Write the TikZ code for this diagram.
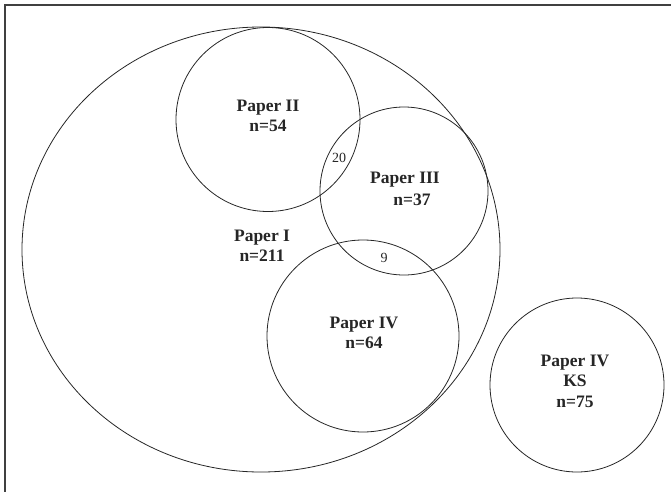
\documentclass[tikz,border=0pt]{standalone}
\usepackage{fontspec}
\setmainfont{Liberation Serif}
\begin{document}
\begin{tikzpicture}[x=1pt,y=-1pt,
  set/.style={draw=black!85,line width=0.8pt},
  lbl/.style={font=\fontsize{17.5}{20.5}\selectfont\bfseries,align=center,inner sep=0pt,text=black!85},
  cnt/.style={font=\fontsize{14}{16}\selectfont,inner sep=0pt,text=black!85}]
\useasboundingbox (0,0) rectangle (671,492);
\draw[black!75,line width=1.6pt] (671,5) -- (5,5) -- (5,492);
% sets
\draw[set] (261,249.5) ellipse [x radius=239, y radius=222.5];
\draw[set] (268,119.5) circle [radius=92];
\draw[set] (404,191) circle [radius=84];
\draw[set] (363,336) circle [radius=96];
\draw[set] (577,385) circle [radius=87];
% labels
\node[lbl] (p2) at (268,116) {Paper II\\n=54};
\node[lbl] (p3a) at (405,180) {Paper III};
\node[lbl] (p3b) at (412,200) {n=37};
\node[lbl] (p1) at (262,246) {Paper I\\n=211};
\node[lbl] (p4) at (364,333) {Paper IV\\n=64};
\node[lbl] (ks) at (575,381) {Paper IV\\KS\\n=75};
\node[cnt] (c20) at (339,158) {20};
\node[cnt] (c9) at (384,258) {9};
\end{tikzpicture}
\end{document}
